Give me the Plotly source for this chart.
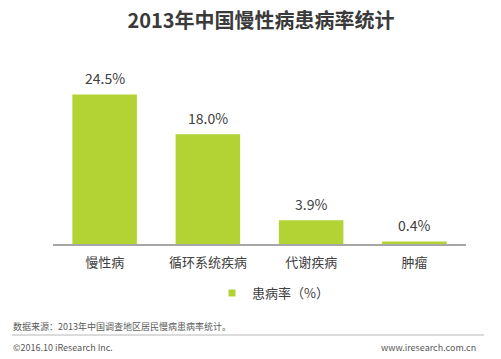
import plotly.graph_objects as go

categories = ["慢性病", "循环系统疾病", "代谢疾病", "肿瘤"]
values = [24.5, 18.0, 3.9, 0.4]
value_labels = ["24.5%", "18.0%", "3.9%", "0.4%"]
series_name = "患病率（%）"

FONT = "Noto Sans CJK SC"
GREEN = "#B3D334"
TXT = "#404040"

W, H = 501, 359
ml, mr, mt, mb = 53, 35, 61, 115
ph = H - mt - mb

def py(pix):
    # pixel y (from top) -> paper y
    return (H - mb - pix) / ph

def px(pix):
    return (pix - ml) / (W - ml - mr)

fig = go.Figure()
fig.add_trace(go.Bar(
    x=categories, y=values, name=series_name,
    marker=dict(color=GREEN, line=dict(width=0)),
    width=0.625,
    showlegend=False,
))
# legend entry with a small square swatch
fig.add_trace(go.Scatter(
    x=[None], y=[None], mode="markers", name=series_name,
    marker=dict(symbol="square", size=7, color=GREEN),
    showlegend=True,
))

for c, v, t in zip(categories, values, value_labels):
    fig.add_annotation(x=c, y=v, text=t, showarrow=False, yanchor="middle", yshift=16.5,
                       font=dict(family=FONT, size=14, color=TXT))

fig.update_layout(
    width=W, height=H,
    margin=dict(l=ml, r=mr, t=mt, b=mb, autoexpand=False),
    paper_bgcolor="white", plot_bgcolor="white",
    font=dict(family=FONT, color=TXT),
    title=dict(text="<b>2013年中国慢性病患病率统计</b>", x=px(261), xanchor="center",
               xref="paper", y=1 - 21 / H, yanchor="middle",
               font=dict(family=FONT, size=20, color="#3a3a3a")),
    xaxis=dict(range=[-0.5, 3.5], showgrid=False, showline=True, linecolor="#A6A6A6",
               linewidth=1.5, ticks="", tickfont=dict(family=FONT, size=13, color=TXT),
               ticklabelstandoff=6, fixedrange=True),
    yaxis=dict(range=[0, 30], visible=False, fixedrange=True),
    legend=dict(orientation="h", x=px(212), xanchor="left", y=py(293), yanchor="middle",
                font=dict(family=FONT, size=13, color=TXT), itemwidth=30,
                bgcolor="rgba(0,0,0,0)"),
    bargap=0.375,
)

fig.add_annotation(text="数据来源：2013年中国调查地区居民慢病患病率统计。", xref="paper", yref="paper",
                   x=px(11), xanchor="left", y=py(326), yanchor="middle", showarrow=False,
                   font=dict(family=FONT, size=9, color="#595959"))
fig.add_shape(type="line", xref="paper", yref="paper", x0=px(12), x1=px(484),
              y0=py(335), y1=py(335), line=dict(color="#CFCFCF", width=1.5))
fig.add_annotation(text="©2016.10 iResearch Inc.", xref="paper", yref="paper",
                   x=px(11), xanchor="left", y=py(347), yanchor="middle", showarrow=False,
                   font=dict(family=FONT, size=9, color="#595959"))
fig.add_annotation(text="www.iresearch.com.cn", xref="paper", yref="paper",
                   x=px(478), xanchor="right", y=py(347), yanchor="middle", showarrow=False,
                   font=dict(family=FONT, size=9, color="#595959"))

fig.write_html("out.html", config={"displayModeBar": False},
               post_script="document.body.style.margin='0';document.body.style.overflow='hidden';")
